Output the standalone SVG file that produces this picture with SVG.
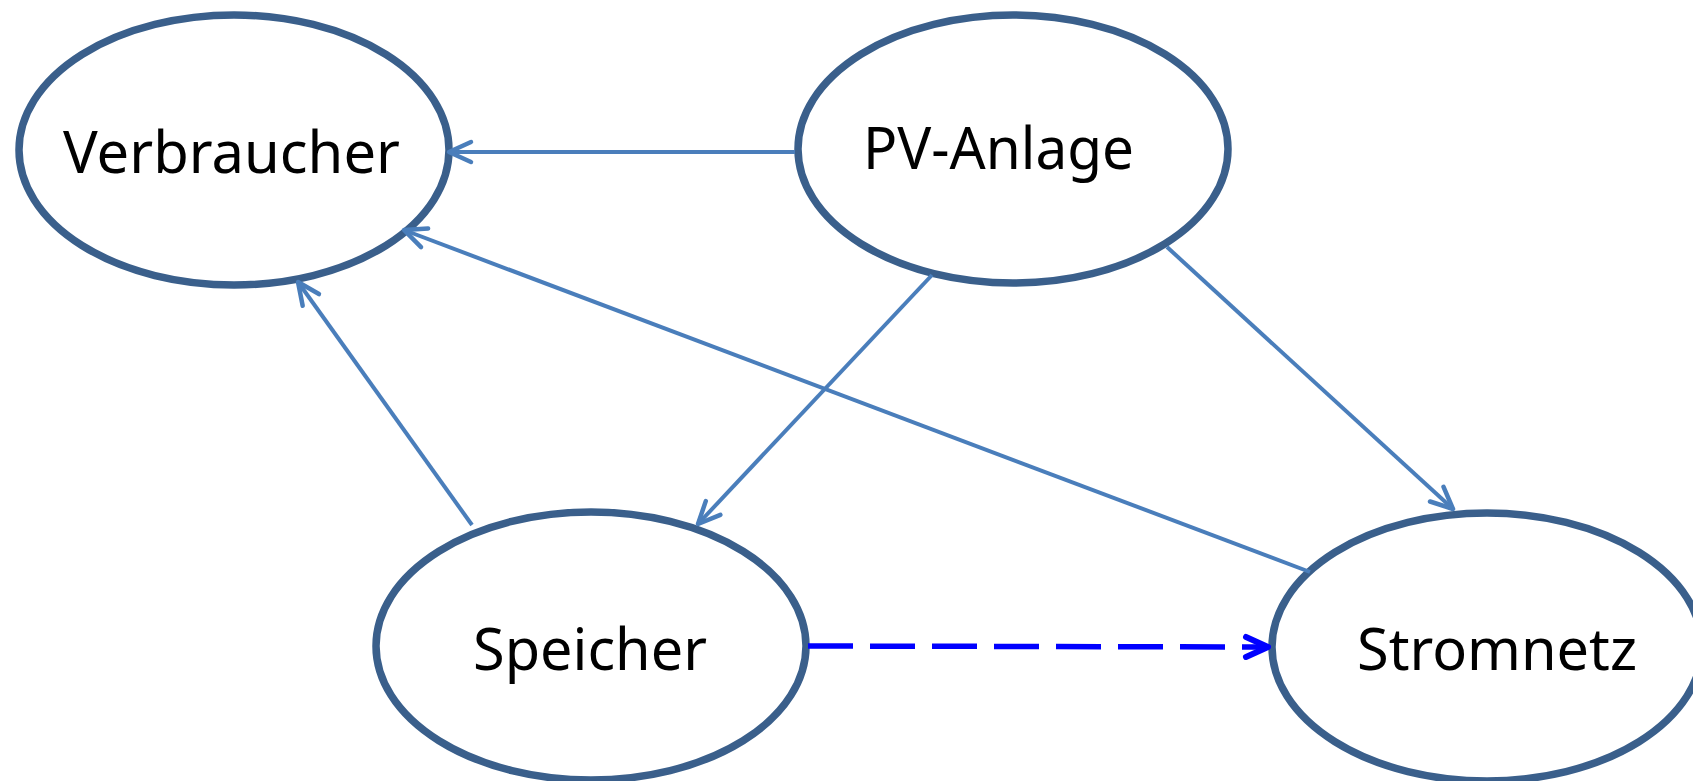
<svg xmlns="http://www.w3.org/2000/svg" width="1693" height="781" viewBox="0 0 1693 781">
<style>
.node{fill:#ffffff;stroke:#3a5f8b;stroke-width:7.5}
.lbl{font-family:"Noto Sans","Open Sans","Liberation Sans",sans-serif;font-size:59px;fill:#000000;text-anchor:start}
.conn{fill:none;stroke:#4a7ebb;stroke-width:4}
.dash{fill:none;stroke:#0000ff;stroke-width:5.5;stroke-dasharray:45 17}
</style>
<defs>
<marker id="arr" markerUnits="userSpaceOnUse" orient="auto" refX="0" refY="0" markerWidth="40" markerHeight="40" viewBox="-30 -20 40 40" overflow="visible">
<path d="M-22,-10 L0,0 L-22,10" fill="none" stroke="#4a7ebb" stroke-width="4.5" stroke-linecap="round" stroke-linejoin="round"/>
</marker>
<marker id="arrb" markerUnits="userSpaceOnUse" orient="auto" refX="0" refY="0" markerWidth="40" markerHeight="40" viewBox="-30 -20 40 40" overflow="visible">
<path d="M-22,-10 L0,0 L-22,10" fill="none" stroke="#0000ff" stroke-width="6" stroke-linecap="round" stroke-linejoin="round"/>
</marker>
</defs>
<rect width="1693" height="781" fill="#ffffff"/>
<g id="node-verbraucher">
<ellipse class="node" cx="234" cy="150" rx="215" ry="135"/>
<text class="lbl" x="63" y="173" textLength="337" lengthAdjust="spacingAndGlyphs">Verbraucher</text>
</g>
<g id="node-pv-anlage">
<ellipse class="node" cx="1013" cy="149" rx="215" ry="134"/>
<text class="lbl" x="863" y="169" textLength="271" lengthAdjust="spacingAndGlyphs">PV-Anlage</text>
</g>
<g id="node-speicher">
<ellipse class="node" cx="591" cy="646" rx="215" ry="134"/>
<text class="lbl" x="473" y="670" textLength="234" lengthAdjust="spacingAndGlyphs">Speicher</text>
</g>
<g id="node-stromnetz">
<ellipse class="node" cx="1487" cy="647" rx="215" ry="134"/>
<text class="lbl" x="1357" y="670" textLength="280" lengthAdjust="spacingAndGlyphs">Stromnetz</text>
</g>
<g id="connectors">
<line class="conn" x1="795" y1="152" x2="449" y2="152" marker-end="url(#arr)"/>
<line class="conn" x1="1310" y1="572" x2="404" y2="230" marker-end="url(#arr)"/>
<line class="conn" x1="472" y1="525" x2="298" y2="282" marker-end="url(#arr)"/>
<line class="conn" x1="932" y1="275" x2="698" y2="524" marker-end="url(#arr)"/>
<line class="conn" x1="1167" y1="247" x2="1453" y2="509" marker-end="url(#arr)"/>
<line class="dash" x1="808" y1="646" x2="1268" y2="647" marker-end="url(#arrb)"/>
</g>
</svg>
